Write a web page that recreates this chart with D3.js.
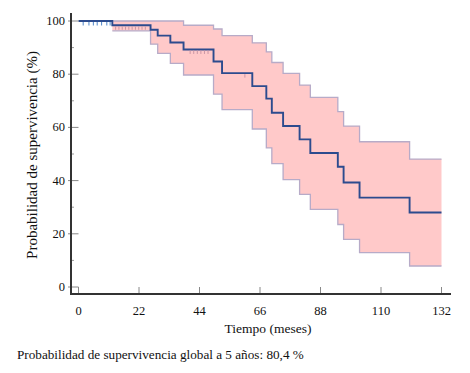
<!DOCTYPE html>
<html>
<head>
<meta charset="utf-8">
<script src="https://cdn.jsdelivr.net/npm/d3@7"></script>
<style>
  body { margin: 0; background: #fff; }
  svg { display: block; }
</style>
</head>
<body>
<svg width="470" height="373"></svg>
<script>
// Kaplan-Meier: tiempos de evento (meses) y supervivencia (%)
const times    = [0, 12.3, 26.2, 28.8, 33.4, 38.2, 49.1, 52.2, 63.2, 68.3, 70.3, 74.4, 80.4, 84.3, 94.3, 96.4, 102.2, 120.4, 132];
const survival = [100, 98.4, 96.7, 94.5, 91.9, 89.3, 84.8, 80.4, 75.5, 70.8, 65.5, 60.5, 55.5, 50.4, 45.2, 39.3, 33.6, 28.0, 28.0];
const upperCI  = [100, 100, 100, 100, 100, 98.4, 97.0, 94.5, 91.8, 88.4, 84.4, 80.3, 75.9, 71.3, 65.9, 60.5, 54.6, 48.1, 48.1];
const lowerCI  = [100, 96.3, 91.3, 87.8, 84.1, 79.7, 72.5, 66.7, 59.4, 52.3, 46.4, 40.4, 34.8, 29.2, 23.5, 17.9, 12.9, 7.9, 7.9];

// casos censurados (meses)
const censored = [1.7, 3.8, 5.4, 6.8, 8.4, 10.3, 11.5,
                  13.5, 14.7, 15.9, 17.1, 18.3, 19.5, 20.7, 21.9, 23.1, 24.3,
                  40.6, 41.9, 43.2, 44.5, 45.8, 47.1, 60.5];

const xTicks = [0, 22, 44, 66, 88, 110, 132];
const yTicks = [0, 20, 40, 60, 80, 100];
const yMinorTicks = [10, 30, 50, 70, 90];

const serif = "'Liberation Serif', 'Times New Roman', Times, serif";

const svg = d3.select("svg")
    .attr("font-family", serif);

const x = d3.scaleLinear().domain([0, 132]).range([78.5, 441.5]);
const y = d3.scaleLinear().domain([0, 100]).range([287, 21]);

const axisX0 = 71, axisY0 = 294;

const rows = times.map((t, i) => ({t, s: survival[i], lo: lowerCI[i], hi: upperCI[i]}));

// banda de confianza
const band = rows.slice(1);
svg.append("path")
    .datum(band)
    .attr("d", d3.area().curve(d3.curveStepAfter)
        .x(d => x(d.t)).y0(d => y(d.lo)).y1(d => y(d.hi)))
    .attr("fill", "#ffc9c9");

["hi", "lo"].forEach(k => {
    svg.append("path")
        .datum(band)
        .attr("d", d3.line().curve(d3.curveStepAfter).x(d => x(d.t)).y(d => y(d[k])))
        .attr("fill", "none")
        .attr("stroke", "#b7abc8")
        .attr("stroke-width", 1.3);
});

// curva de supervivencia
svg.append("path")
    .datum(rows)
    .attr("d", d3.line().curve(d3.curveStepAfter).x(d => x(d.t)).y(d => y(d.s)))
    .attr("fill", "none")
    .attr("stroke", "#2c4b8e")
    .attr("stroke-width", 1.9);

// marcas de censura
function survAt(t) {
    let s = survival[0];
    times.forEach((tt, i) => { if (tt <= t) s = survival[i]; });
    return s;
}
svg.selectAll(".cens")
    .data(censored)
    .enter()
    .append("line")
    .attr("x1", d => x(d)).attr("x2", d => x(d))
    .attr("y1", d => y(survAt(d)) + 1)
    .attr("y2", d => y(survAt(d)) + 4.5)
    .attr("stroke", d => d < 12.3 ? "#4f86c8" : "#c996a6")
    .attr("stroke-width", 1);

// ejes
const axisG = svg.append("g");
axisG.selectAll(".ytick")
    .data(yTicks)
    .enter()
    .append("line")
    .attr("x1", axisX0 - 3).attr("x2", x(0))
    .attr("y1", d => y(d)).attr("y2", d => y(d))
    .attr("stroke", "#888").attr("stroke-width", 1);

axisG.selectAll(".yminor")
    .data(yMinorTicks)
    .enter()
    .append("line")
    .attr("x1", axisX0).attr("x2", axisX0 + 3)
    .attr("y1", d => y(d)).attr("y2", d => y(d))
    .attr("stroke", "#999").attr("stroke-width", 1);

axisG.selectAll(".xtick")
    .data(xTicks)
    .enter()
    .append("line")
    .attr("x1", d => x(d)).attr("x2", d => x(d))
    .attr("y1", y(0)).attr("y2", axisY0)
    .attr("stroke", "#888").attr("stroke-width", 1);

axisG.append("line")
    .attr("x1", axisX0).attr("x2", axisX0)
    .attr("y1", 13).attr("y2", axisY0 + 1)
    .attr("stroke", "#333").attr("stroke-width", 2);
axisG.append("line")
    .attr("x1", axisX0 - 1).attr("x2", 451)
    .attr("y1", axisY0).attr("y2", axisY0)
    .attr("stroke", "#333").attr("stroke-width", 2);

axisG.selectAll(".ylab")
    .data(yTicks)
    .enter()
    .append("text")
    .attr("x", 65)
    .attr("y", d => y(d) + 4)
    .attr("text-anchor", "end")
    .attr("font-family", serif)
    .attr("font-size", 12.5)
    .attr("fill", "#111")
    .text(d => d);

axisG.selectAll(".xlab")
    .data(xTicks)
    .enter()
    .append("text")
    .attr("x", d => x(d))
    .attr("y", 315)
    .attr("text-anchor", "middle")
    .attr("font-family", serif)
    .attr("font-size", 12.5)
    .attr("fill", "#111")
    .text(d => d);

// títulos
svg.append("text")
    .attr("transform", "translate(37, 155) rotate(-90)")
    .attr("text-anchor", "middle")
    .attr("font-family", serif)
    .attr("font-size", 15)
    .attr("fill", "#111")
    .text("Probabilidad de supervivencia (%)");

svg.append("text")
    .attr("x", 268).attr("y", 333)
    .attr("text-anchor", "middle")
    .attr("font-family", serif)
    .attr("font-size", 13.5)
    .attr("fill", "#111")
    .text("Tiempo (meses)");

svg.append("text")
    .attr("x", 17).attr("y", 359)
    .attr("font-family", serif)
    .attr("font-size", 13.2)
    .attr("fill", "#111")
    .text("Probabilidad de supervivencia global a 5 años: 80,4 %");
</script>
</body>
</html>
